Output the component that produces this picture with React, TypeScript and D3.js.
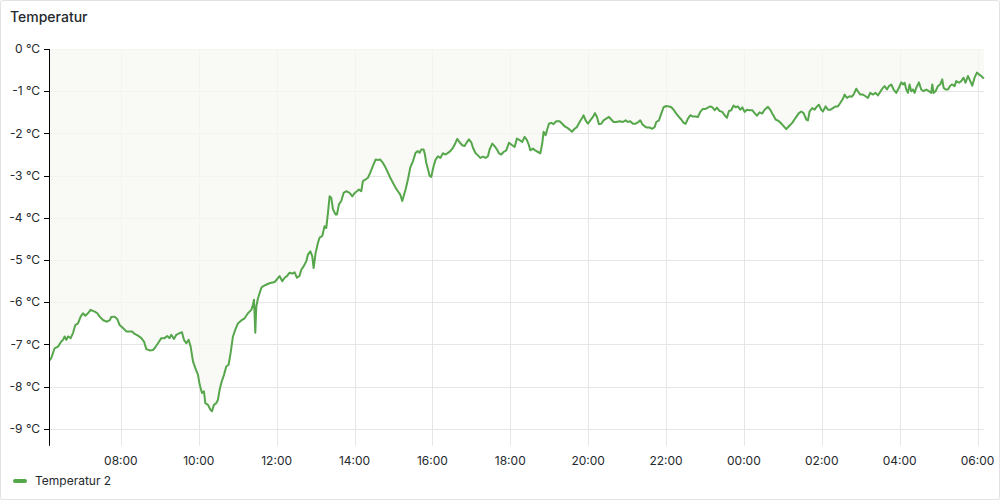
import React from "react";
import * as d3 from "d3";

const panelTitle = "Temperatur";
const seriesName = "Temperatur 2";
const startTime = new Date(2024, 0, 15, 6, 10);
const endTime = new Date(2024, 0, 16, 6, 10);
const yTicks = [0, -1, -2, -3, -4, -5, -6, -7, -8, -9];

// minutes after start
const sampleMinutes = [
  0, 2.8, 7.9, 13.1, 18.2, 20.8, 23.3, 25.9, 28.5, 32.6, 36.2, 39.8, 43.9, 48.0, 51.6, 55.2, 59.3, 63.4, 69.6, 73.7,
  77.3, 82.4, 87.6, 92.7, 95.2, 100.4, 104.5, 108.1, 113.2, 118.4, 123.5, 127.1, 131.2, 136.3, 141.5, 145.6, 149.2, 154.3, 159.4, 162.0,
  167.2, 172.3, 177.4, 181.5, 185.1, 187.7, 191.8, 195.4, 200.5, 204.1, 207.2, 210.8, 214.4, 217.5, 221.1, 224.7, 228.8, 231.4, 234.9, 238.0,
  240.1, 244.2, 247.8, 250.4, 253.4, 257.0, 259.6, 262.2, 264.7, 268.9, 272.4, 276.0, 279.1, 282.7, 286.3, 290.4, 295.5, 300.7, 305.8, 311.0,
  313.5, 315.1, 317.1, 318.7, 321.2, 325.3, 327, 333, 339, 347,
  354.6, 358.7, 362.3, 365.9, 370.0, 374.1, 377.7, 381.3, 385.4, 388.0, 391.6, 395.7, 398.3, 401.9, 404.9, 407.0, 410.1, 413.7, 416.2, 420.3,
  423.9, 426.5, 429.1, 431.6, 434.2, 436.8, 440.9, 442.9, 446.0, 449.6, 453.2, 457.3, 462.5, 466.6, 470.2, 473.8, 476.8, 480.4, 483.0, 487.1,
  490.7, 494.3, 498.4, 502.5, 506.1, 509.7, 513.8, 517.9, 521.5, 525.1, 529.2, 533.3, 536.9, 540.5, 543.6, 545.7, 548.7, 552.3, 555.9, 560.0,
  564.1, 567.7, 570.3, 572.9, 576.5, 578.5, 580.6, 583.2, 585.7, 588.3, 591.9, 595.0, 598.6, 602.2, 606.3, 610.4, 614.0, 617.6, 621.7, 625.8,
  628.3, 631.9, 636.1, 639.6, 643.2, 646.3, 649.9, 652.5, 656.6, 660.2, 663.8, 667.9, 672.0, 675.6, 678.2, 682.3, 685.9, 689.5, 692.6, 696.1,
  699.7, 703.9, 708.0,
  713.1, 716.7, 720.3, 724.4, 728.5, 732.1, 735.7, 738.8, 740.8, 744.9, 749.1, 752.7, 756.3, 759.3, 761.4, 764.5, 766.5, 769.6, 773.2, 776.8,
  780.9, 786.0, 790.1, 793.7, 797.3, 801.4, 805.0, 809.2, 812.7, 816.9, 821.0, 823.0, 826.1, 829.7, 833.3, 837.4, 840.5, 843.6, 846.6, 850.2,
  853.8, 857.9, 862.1, 865.6, 869.2, 873.4, 878.5, 883.6, 887.7, 891.3, 894.9, 899.0, 903.1, 906.7, 910.3, 913.4, 917.0, 920.6, 924.7, 928.8,
  932.4, 935.0, 939.1, 942.7, 946.3, 950.4, 954.5, 958.1, 961.7, 965.8, 969.9, 973.5, 977.1, 980.2, 983.8, 987.4, 991.5, 995.6, 999.2, 1002.8,
  1006.9, 1011.0, 1014.6, 1018.2, 1021.3, 1024.9, 1028.5, 1032.6, 1036.7, 1040.3, 1043.9, 1047.0, 1050.5, 1054.1, 1057.2, 1060.8, 1064.4, 1067.5, 1071.1, 1074.7,
  1078.8,
  1082.9, 1086.5, 1090.1, 1094.2, 1098.3, 1101.9, 1107.1, 1110.7, 1114.8, 1118.9, 1124.0, 1129.1, 1135.3, 1139.4, 1144.5, 1149.7, 1154.8, 1158.4, 1162.0, 1166.1,
  1168.7, 1171.3, 1175.4, 1179.0, 1182.6, 1185.6, 1189.2, 1191.8, 1195.9, 1199.5, 1203.1, 1207.2, 1211.3, 1214.9, 1218.5, 1222.6, 1225.2, 1228.8, 1232.9, 1236.0,
  1239.1, 1243.2, 1245.7, 1249.3, 1253.4, 1257.5, 1261.1, 1264.7, 1268.8, 1272.9, 1276.5, 1279.1, 1283.2, 1286.8, 1290.4, 1293.5, 1297.1, 1300.7, 1304.8, 1308.9,
  1312.5, 1315.1, 1317.6, 1320.2, 1322.8, 1325.3, 1327.9, 1330.5, 1333.0, 1335.6, 1339.7, 1343.3, 1346.9, 1351.0, 1355.1, 1358.7, 1360.3, 1362.3, 1365.4, 1369.0,
  1372.6, 1375.7, 1377.7, 1380.8, 1384.4, 1388.0, 1391.1, 1394.7, 1397.2, 1401.4, 1404.9, 1408.5, 1411.6, 1415.2, 1418.8, 1421.9, 1425.5, 1429.1, 1432.2, 1435.8,
  1438.3, 1440,
];

// °C
const temperatures = [
  -7.38, -7.32, -7.09, -7.05, -6.93, -6.89, -6.81, -6.89, -6.81, -6.85, -6.73, -6.54, -6.50, -6.34, -6.26, -6.32, -6.26, -6.18, -6.22, -6.26,
  -6.34, -6.42, -6.46, -6.43, -6.35, -6.34, -6.40, -6.54, -6.61, -6.69, -6.69, -6.69, -6.75, -6.79, -6.85, -6.93, -7.11, -7.14, -7.13, -7.09,
  -6.97, -6.85, -6.85, -6.80, -6.85, -6.77, -6.87, -6.77, -6.73, -6.71, -6.89, -6.97, -6.89, -7.05, -7.40, -7.56, -7.72, -7.95, -8.15, -8.11,
  -8.39, -8.43, -8.54, -8.58, -8.43, -8.39, -8.31, -8.07, -7.91, -7.72, -7.52, -7.48, -7.20, -6.81, -6.65, -6.50, -6.43, -6.38, -6.26, -6.18,
  -6.06, -5.94, -6.72, -6.10, -5.91, -5.71, -5.64, -5.59, -5.55, -5.52,
  -5.38, -5.50, -5.42, -5.38, -5.30, -5.32, -5.29, -5.42, -5.37, -5.23, -5.15, -5.03, -4.87, -4.79, -4.91, -5.19, -4.83, -4.59, -4.47, -4.43,
  -4.20, -4.24, -3.88, -3.49, -3.53, -3.80, -3.92, -3.92, -3.68, -3.60, -3.41, -3.37, -3.41, -3.49, -3.41, -3.37, -3.33, -3.37, -3.13, -3.09,
  -3.05, -2.93, -2.77, -2.62, -2.63, -2.62, -2.70, -2.81, -2.93, -3.05, -3.17, -3.29, -3.37, -3.45, -3.60, -3.49, -3.33, -3.09, -2.81, -2.66,
  -2.46, -2.42, -2.46, -2.38, -2.38, -2.50, -2.70, -2.85, -3.00, -3.03, -2.77, -2.62, -2.54, -2.58, -2.47, -2.50, -2.46, -2.42, -2.34, -2.22,
  -2.13, -2.21, -2.28, -2.30, -2.21, -2.14, -2.21, -2.34, -2.47, -2.52, -2.58, -2.55, -2.58, -2.54, -2.38, -2.24, -2.30, -2.38, -2.47, -2.50,
  -2.44, -2.40, -2.22,
  -2.28, -2.32, -2.12, -2.16, -2.20, -2.08, -2.16, -2.28, -2.40, -2.36, -2.41, -2.44, -2.47, -2.24, -1.96, -2.04, -1.93, -1.77, -1.75, -1.78,
  -1.71, -1.71, -1.77, -1.83, -1.86, -1.91, -1.96, -1.89, -1.85, -1.73, -1.63, -1.57, -1.69, -1.77, -1.69, -1.61, -1.52, -1.61, -1.78, -1.77,
  -1.69, -1.65, -1.61, -1.67, -1.73, -1.73, -1.71, -1.73, -1.69, -1.73, -1.71, -1.77, -1.77, -1.74, -1.69, -1.78, -1.83, -1.86, -1.86, -1.89,
  -1.85, -1.73, -1.69, -1.53, -1.38, -1.35, -1.36, -1.38, -1.44, -1.53, -1.61, -1.67, -1.75, -1.77, -1.65, -1.57, -1.60, -1.60, -1.61, -1.49,
  -1.42, -1.42, -1.39, -1.36, -1.38, -1.45, -1.39, -1.47, -1.49, -1.57, -1.63, -1.47, -1.45, -1.34, -1.38, -1.36, -1.44, -1.38, -1.49, -1.44,
  -1.45,
  -1.45, -1.52, -1.58, -1.50, -1.53, -1.44, -1.37, -1.44, -1.56, -1.67, -1.71, -1.79, -1.90, -1.83, -1.75, -1.63, -1.52, -1.48, -1.52, -1.67,
  -1.69, -1.48, -1.40, -1.44, -1.36, -1.32, -1.44, -1.48, -1.36, -1.44, -1.44, -1.40, -1.36, -1.36, -1.28, -1.18, -1.08, -1.16, -1.12, -1.13,
  -1.08, -0.94, -1.00, -1.08, -1.08, -1.12, -1.16, -1.04, -1.08, -1.04, -1.10, -1.04, -0.94, -0.88, -0.96, -0.88, -0.84, -0.96, -1.04, -0.92,
  -0.79, -0.84, -0.80, -0.96, -1.04, -0.84, -1.00, -0.96, -1.04, -0.92, -0.79, -0.96, -1.00, -0.96, -1.00, -1.04, -0.84, -1.04, -1.00, -0.88,
  -0.84, -0.72, -0.92, -0.96, -0.96, -0.87, -0.84, -0.88, -0.76, -0.80, -0.76, -0.68, -0.80, -0.64, -0.76, -0.87, -0.68, -0.56, -0.60, -0.64,
  -0.68, -0.70,
];

const W = 1000;
const H = 500;
const FONT = "Inter, 'Noto Sans', sans-serif";
const TEXT = "#24292e";
const LINE = "#56a64b";

export default function App() {
  const data = sampleMinutes.map((m, i) => ({
    t: new Date(startTime.getTime() + m * 60000),
    v: temperatures[i],
  }));

  const left = 49.5;
  const right = 984;
  const top = 49;
  const bottom = 445.8;

  const x = d3.scaleTime().domain([startTime, endTime]).range([left, right]);
  const y = d3.scaleLinear().domain([0, -9.4]).range([top, bottom]);

  const xTicks = x.ticks(d3.timeHour.every(2) as any);
  const fmt = d3.timeFormat("%H:%M");

  const line = d3
    .line<{ t: Date; v: number }>()
    .x((d) => x(d.t))
    .y((d) => y(d.v));
  const area = d3
    .area<{ t: Date; v: number }>()
    .x((d) => x(d.t))
    .y0(() => y(0))
    .y1((d) => y(d.v));

  return (
    <svg
      width={W}
      height={H}
      style={{ position: "absolute", left: 0, top: 0, display: "block", background: "#fff" }}
      fontFamily={FONT}
    >
      <rect x={0.5} y={0.5} width={W - 1} height={H - 1} rx={2} fill="#fff" stroke="#e2e2e4" />
      <text x={10} y={22} fontSize={14} fontWeight={500} fill={TEXT}>
        {panelTitle}
      </text>

      {/* grid */}
      <g stroke="#e6e6e6" strokeWidth={1}>
        {yTicks.map((v) => (
          <line key={"gy" + v} x1={left} x2={right} y1={Math.round(y(v)) + 0.5} y2={Math.round(y(v)) + 0.5} />
        ))}
        {xTicks.map((t) => (
          <line key={"gx" + t.getTime()} x1={Math.round(x(t)) + 0.5} x2={Math.round(x(t)) + 0.5} y1={top} y2={bottom} />
        ))}
      </g>

      <path d={area(data) || ""} fill="#f7f7f3" fillOpacity={0.75} />
      <path d={line(data) || ""} fill="none" stroke={LINE} strokeWidth={2} strokeLinejoin="round" />

      {/* y axis */}
      <line x1={49.5} x2={49.5} y1={top} y2={bottom} stroke="#000" strokeWidth={1} />
      {yTicks.map((v) => (
        <g key={"yt" + v}>
          <line x1={44} x2={49.5} y1={Math.round(y(v)) + 0.5} y2={Math.round(y(v)) + 0.5} stroke="#000" />
          <text x={40} y={y(v)} dy="0.35em" textAnchor="end" fontSize={12} fill={TEXT}>
            {`${v} °C`}
          </text>
        </g>
      ))}

      {/* x labels */}
      {xTicks.map((t) => (
        <text key={"xt" + t.getTime()} x={x(t)} y={461} dy="0.35em" textAnchor="middle" fontSize={12} fill={TEXT}>
          {fmt(t)}
        </text>
      ))}

      {/* legend */}
      <line x1={15} x2={25} y1={481} y2={481} stroke={LINE} strokeWidth={4} strokeLinecap="round" />
      <text x={35} y={481} dy="0.35em" fontSize={12} fill={TEXT}>
        {seriesName}
      </text>
    </svg>
  );
}
